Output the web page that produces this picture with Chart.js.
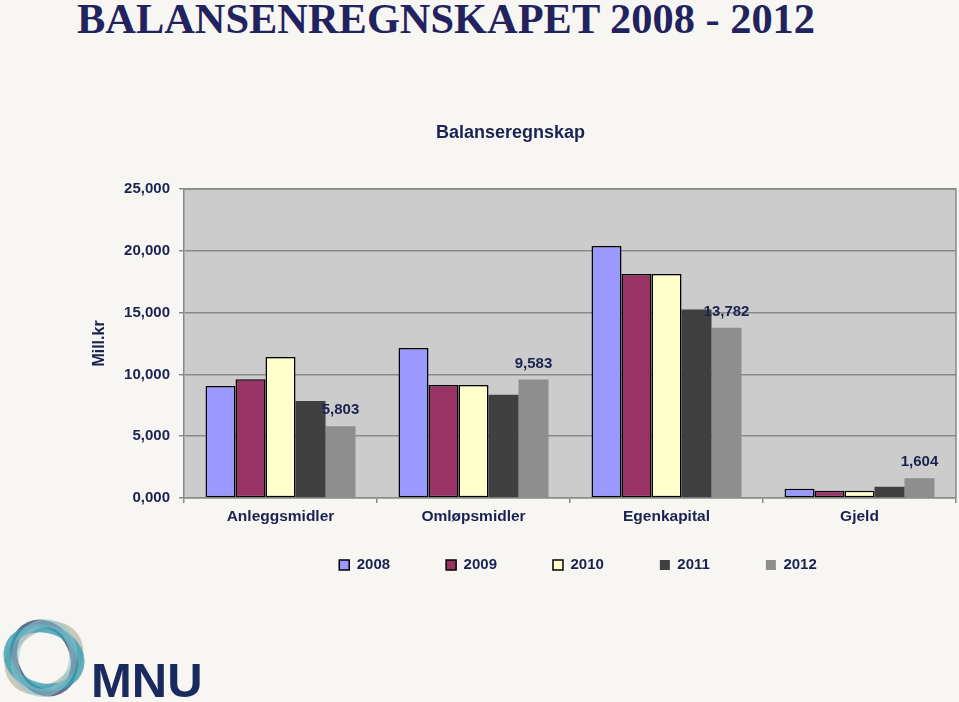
<!DOCTYPE html>
<html><head><meta charset="utf-8">
<script src="https://cdn.jsdelivr.net/npm/chart.js@4.4.1/dist/chart.umd.min.js"></script>
<style>
html,body{margin:0;padding:0;background:#f7f6f3;width:959px;height:702px;overflow:hidden;position:relative;}
#title{position:absolute;left:77px;top:-2px;font-family:'Liberation Serif','DejaVu Serif',serif;font-weight:bold;font-size:42px;line-height:42px;color:#22235e;white-space:nowrap;transform-origin:0 0;}
#cv{position:absolute;left:65px;top:100px;}
#logo{position:absolute;left:0;top:612px;}
#mnu{position:absolute;left:91px;top:656px;font-family:'Liberation Sans',Arial,sans-serif;font-weight:bold;font-size:49px;line-height:49px;color:#1b2a5e;}
</style></head>
<body>
<div id="title">BALANSENREGNSKAPET 2008 - 2012</div>
<canvas id="cv" width="894" height="507"></canvas>
<svg id="logo" width="92" height="92" viewBox="0 0 92 92">
 <g fill="none">
  <ellipse cx="44" cy="46" rx="37" ry="30" transform="rotate(-35 44 46)" stroke="#c4beb3" stroke-width="9" opacity="0.85"/>
  <ellipse cx="44" cy="46" rx="36" ry="29" transform="rotate(65 44 46)" stroke="#2e3c6a" stroke-width="7" opacity="0.75"/>
  <ellipse cx="44" cy="46" rx="37" ry="29" transform="rotate(15 44 46)" stroke="#3a9fb2" stroke-width="8" opacity="0.8"/>
  <ellipse cx="44" cy="46" rx="35" ry="29" transform="rotate(-80 44 46)" stroke="#8fc7cf" stroke-width="8" opacity="0.55"/>
 </g>
</svg>
<div id="mnu">MNU</div>
<script>
const categories = ['Anleggsmidler', 'Omløpsmidler', 'Egenkapital', 'Gjeld'];
const years = ['2008', '2009', '2010', '2011', '2012'];
const v2008 = [9.06, 12.14, 20.39, 0.75];
const v2009 = [9.60, 9.14, 18.12, 0.59];
const v2010 = [11.40, 9.14, 18.12, 0.59];
const v2011 = [7.85, 8.36, 15.26, 0.91];
const v2012 = [5.803, 9.583, 13.782, 1.604];
const yTicks = [0, 5, 10, 15, 20, 25];

const series = [v2008, v2009, v2010, v2011, v2012];
const fills = ['#9999ff', '#993366', '#ffffcc', '#404040', '#8e8e8e'];
const borders = [1.5, 1.5, 1.5, 0, 0];
const NAVY = '#1b2150';
const FONT = "'Liberation Sans', Arial, sans-serif";
const fmt = v => v.toFixed(3).replace('.', ',');

(function(){
  const t = document.getElementById('title');
  const w = t.getBoundingClientRect().width;
  t.style.transform = 'scaleX(' + (738 / w) + ')';
})();

const plotBg = {
  id: 'plotBg',
  beforeDraw(chart) {
    const {ctx, chartArea: a} = chart;
    ctx.save();
    ctx.fillStyle = '#cccccc';
    ctx.fillRect(a.left, a.top, a.width, a.height);
    ctx.restore();
  },
  beforeDatasetsDraw(chart) {
    const {ctx, chartArea: a} = chart;
    ctx.save();
    ctx.strokeStyle = '#8a8a8a';
    ctx.lineWidth = 1.5;
    ctx.beginPath();
    ctx.moveTo(a.left, a.top);
    ctx.lineTo(a.right, a.top);
    ctx.lineTo(a.right, a.bottom);
    ctx.stroke();
    ctx.restore();
  }
};

const valueLabels = {
  id: 'valueLabels',
  afterDatasetsDraw(chart) {
    const {ctx} = chart;
    const meta = chart.getDatasetMeta(4);
    ctx.save();
    ctx.font = 'bold 15px ' + FONT;
    ctx.fillStyle = NAVY;
    ctx.textAlign = 'center';
    ctx.textBaseline = 'middle';
    meta.data.forEach((el, i) => {
      ctx.fillText(fmt(v2012[i]), el.x, el.y - 16);
    });
    ctx.restore();
  }
};

const legendShift = {
  id: 'legendShift',
  afterLayout(chart) {
    const lg = chart.legend;
    if (lg) { lg.left += 8; lg.right += 8; lg.top -= 24.5; lg.bottom -= 24.5; }
  }
};

new Chart(document.getElementById('cv'), {
  type: 'bar',
  data: {
    labels: categories,
    datasets: years.map((y, i) => ({
      label: y,
      data: series[i],
      backgroundColor: fills[i],
      borderColor: '#000000',
      borderWidth: borders[i],
      borderSkipped: false,
      categoryPercentage: 0.777,
      barPercentage: 1.0
    }))
  },
  options: {
    responsive: false,
    animation: false,
    devicePixelRatio: 1,
    layout: { padding: { left: 0, right: 3, top: 0, bottom: 0 } },
    plugins: {
      title: {
        display: true,
        text: 'Balanseregnskap',
        color: NAVY,
        font: { family: FONT, size: 18, weight: 'bold' },
        padding: { top: 22.2, bottom: 45.2 }
      },
      legend: {
        position: 'bottom',
        fullSize: false,
        labels: {
          boxWidth: 10,
          boxHeight: 10,
          padding: 56,
          color: NAVY,
          font: { family: FONT, size: 15, weight: 'bold' }
        }
      },
      tooltip: { enabled: false }
    },
    scales: {
      x: {
        grid: { drawOnChartArea: false, color: '#8a8a8a', lineWidth: 1.5, tickLength: 5, offset: true },
        border: { color: '#8a8a8a', width: 1.5 },
        ticks: { color: NAVY, font: { family: FONT, size: 15.5, weight: 'bold' }, padding: 4, maxRotation: 0, autoSkip: false },
        afterFit(scale) { scale.height = 28; }
      },
      y: {
        min: 0,
        max: 25,
        afterBuildTicks(scale) { scale.ticks = yTicks.map(v => ({ value: v })); },
        grid: { color: '#8a8a8a', lineWidth: 1.5, tickLength: 5 },
        border: { color: '#8a8a8a', width: 1.5 },
        ticks: { color: NAVY, font: { family: FONT, size: 15, weight: 'bold' }, padding: 9, callback: v => fmt(v) },
        title: { display: true, text: 'Mill.kr', color: NAVY, font: { family: FONT, size: 16, weight: 'bold' }, padding: { top: 25.4, bottom: 0 } },
        afterFit(scale) { scale.width = 119; }
      }
    }
  },
  plugins: [plotBg, valueLabels, legendShift]
});
</script>
</body></html>
